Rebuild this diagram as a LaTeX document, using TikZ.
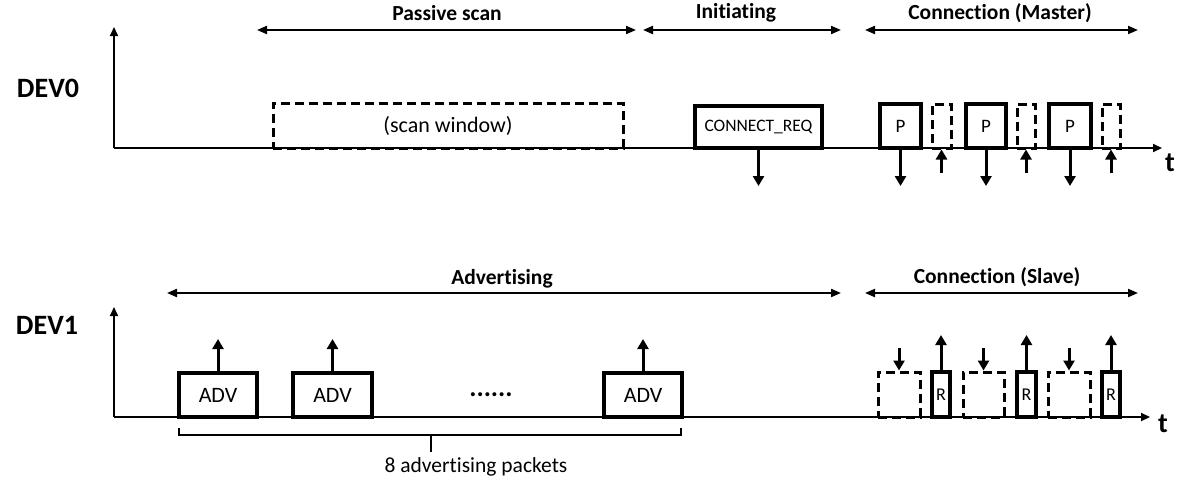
\documentclass[tikz,border=0pt]{standalone}
\usepackage{fontspec}
\setmainfont{Carlito}[Ligatures={NoCommon,NoRare}]
\usetikzlibrary{arrows.meta}
\begin{document}
\begin{tikzpicture}[x=1pt,y=-1pt,
  axisline/.style={line width=2pt,-{Triangle[length=9pt,width=8pt]}},
  span/.style={line width=2pt,{Triangle[length=10pt,width=8pt]}-{Triangle[length=10pt,width=8pt]}},
  sig/.style={line width=3pt,-{Triangle[length=10pt,width=11pt]}},
  pkt/.style={draw,line width=3.5pt,inner sep=0pt,font=\fontsize{22}{24}\selectfont},
  win/.style={draw,line width=3pt,dash pattern=on 9pt off 5pt,inner sep=0pt,font=\fontsize{22}{24}\selectfont},
  lbl/.style={font=\bfseries\fontsize{21.5}{24}\selectfont},
  dev/.style={font=\bfseries\fontsize{28}{30}\selectfont},
  tlbl/.style={font=\bfseries\fontsize{28}{30}\selectfont}]
\useasboundingbox (0,0) rectangle (1177,479);

% ---------- DEV0 ----------
\node[dev] (dev0) at (48,88) {DEV0};
\coordinate (o0) at (114,148);
\coordinate (y0) at (114,27);
\coordinate (t0) at (1162,148);
\draw[axisline] (o0) -- (y0);
\draw[axisline] (o0) -- (t0);
\node[tlbl] (tt0) at (1170,163) {t};

\coordinate (ps1) at (257,30); \coordinate (ps2) at (636,30);
\coordinate (in1) at (643,30); \coordinate (in2) at (841,30);
\coordinate (cm1) at (865,30); \coordinate (cm2) at (1138,30);
\draw[span] (ps1) -- (ps2);
\draw[span] (in1) -- (in2);
\draw[span] (cm1) -- (cm2);
\node[lbl] (lps) at (447,13) {Passive scan};
\node[lbl] (lin) at (736,13) {Initiating};
\node[lbl] (lcm) at (1000,13) {Connection (Master)};

\node[win,minimum width=350pt,minimum height=45pt] (scan) at (448,125.5) {(scan window)};
\node[pkt,minimum width=127pt,minimum height=42pt,font=\fontsize{17.5}{19}\selectfont] (creq) at (758.5,127) {CONNECT\_REQ};
\node[pkt,minimum width=41pt,minimum height=44pt,font=\fontsize{19}{21}\selectfont] (p1) at (900.5,126) {P};
\node[win,minimum width=19pt,minimum height=44pt] (d1) at (941.5,126) {};
\node[pkt,minimum width=40pt,minimum height=44pt,font=\fontsize{19}{21}\selectfont] (p2) at (986,126) {P};
\node[win,minimum width=18pt,minimum height=44pt] (d2) at (1026,126) {};
\node[pkt,minimum width=42pt,minimum height=44pt,font=\fontsize{19}{21}\selectfont] (p3) at (1070,126) {P};
\node[win,minimum width=18pt,minimum height=44pt] (d3) at (1111,126) {};

\coordinate (creqd) at (758.5,186);
\coordinate (p1d) at (900.5,186);
\coordinate (p2d) at (986,186);
\coordinate (p3d) at (1070,186);
\draw[sig] (creq.south) -- (creqd);
\draw[sig] (p1.south) -- (p1d);
\draw[sig] (p2.south) -- (p2d);
\draw[sig] (p3.south) -- (p3d);
\coordinate (d1u) at (941.5,173);
\coordinate (d2u) at (1026,173);
\coordinate (d3u) at (1111,173);
\draw[sig] (d1u) -- (d1.south);
\draw[sig] (d2u) -- (d2.south);
\draw[sig] (d3u) -- (d3.south);

% ---------- DEV1 ----------
\node[dev] (dev1) at (47,325) {DEV1};
\coordinate (o1) at (114,417);
\coordinate (y1) at (114,307);
\coordinate (t1) at (1150,417);
\draw[axisline] (o1) -- (y1);
\draw[axisline] (o1) -- (t1);
\node[tlbl] (tt1) at (1163,424) {t};

\coordinate (ad1) at (167,293); \coordinate (ad2) at (841,293);
\coordinate (cs1) at (865,293); \coordinate (cs2) at (1138,293);
\draw[span] (ad1) -- (ad2);
\draw[span] (cs1) -- (cs2);
\node[lbl] (lad) at (502,279) {Advertising};
\node[lbl] (lcs) at (997,277) {Connection (Slave)};

\node[pkt,minimum width=78pt,minimum height=44pt] (a1) at (218,395) {ADV};
\node[pkt,minimum width=79pt,minimum height=44pt] (a2) at (332.5,395) {ADV};
\node[pkt,minimum width=78pt,minimum height=44pt] (a3) at (643,395) {ADV};
\node[font=\bfseries\fontsize{27}{29}\selectfont,inner sep=0pt] (dots) at (491,395) {......};
\coordinate (a1u) at (218,339);
\coordinate (a2u) at (332.5,339);
\coordinate (a3u) at (643,339);
\draw[sig] (a1.north) -- (a1u);
\draw[sig] (a2.north) -- (a2u);
\draw[sig] (a3.north) -- (a3u);

\node[win,minimum width=42pt,minimum height=45pt] (s1) at (899,394.5) {};
\node[pkt,minimum width=18pt,minimum height=45pt,font=\fontsize{18}{20}\selectfont] (r1) at (941,394.5) {R};
\node[win,minimum width=41pt,minimum height=45pt] (s2) at (983.5,394.5) {};
\node[pkt,minimum width=19pt,minimum height=45pt,font=\fontsize{18}{20}\selectfont] (r2) at (1026.5,394.5) {R};
\node[win,minimum width=42pt,minimum height=45pt] (s3) at (1069,394.5) {};
\node[pkt,minimum width=18pt,minimum height=45pt,font=\fontsize{18}{20}\selectfont] (r3) at (1111,394.5) {R};

\coordinate (s1d) at (899,348);
\coordinate (s2d) at (983.5,348);
\coordinate (s3d) at (1069,348);
\draw[sig] (s1d) -- (s1.north);
\draw[sig] (s2d) -- (s2.north);
\draw[sig] (s3d) -- (s3.north);
\coordinate (r1u) at (941,335);
\coordinate (r2u) at (1026.5,335);
\coordinate (r3u) at (1111,335);
\draw[sig] (r1.north) -- (r1u);
\draw[sig] (r2.north) -- (r2u);
\draw[sig] (r3.north) -- (r3u);

% bracket
\coordinate (bl) at (179,428);
\coordinate (br) at (681,428);
\coordinate (bm) at (431,435);
\coordinate (bt) at (431,452);
\draw[line width=2pt] (bl) -- (179,435) -- (681,435) -- (br);
\draw[line width=2pt] (bm) -- (bt);
\node[font=\fontsize{21.5}{24}\selectfont] (cnt) at (476,467) {8 advertising packets};
\end{tikzpicture}
\end{document}
